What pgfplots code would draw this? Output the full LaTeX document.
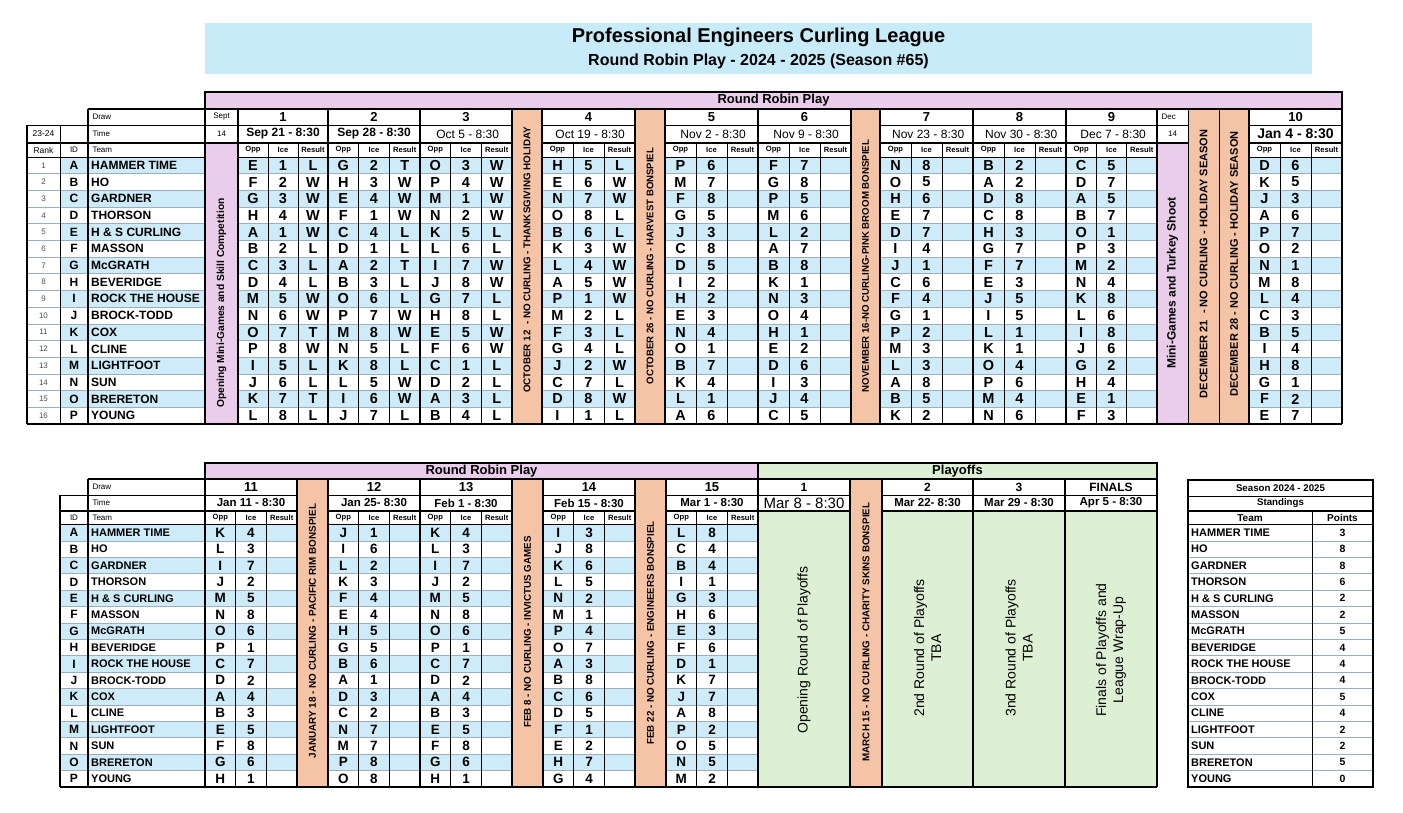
\documentclass[border=0pt]{standalone}
\usepackage{pgfplots}
\pgfplotsset{compat=1.18}
\usepackage{pgfplotstable}
\usepackage{fontspec}
\setmainfont{Liberation Sans}

\definecolor{rowblue}{HTML}{CDEBF8}
\definecolor{titleblue}{HTML}{C8EBF9}
\definecolor{pinkband}{HTML}{E9CDEB}
\definecolor{orangeband}{HTML}{F5C4A7}
\definecolor{playgreen}{HTML}{DDF0D4}
\definecolor{gridgray}{HTML}{9DAFBD}

\newcommand{\fs}[1]{\fontsize{#1}{#1}\selectfont}
\tikzset{thk/.style={line width=1.6pt}, thn/.style={line width=0.7pt}, grd/.style={line width=0.8pt, draw=gridgray}}

% schedule, draws 1-10 (opponent, ice, result)
\pgfplotstableread{
r o1 i1 s1 o2 i2 s2 o3 i3 s3 o4 i4 s4 o5 i5 o6 i6 o7 i7 o8 i8 o9 i9 o10 i10
1 E 1 L G 2 T O 3 W H 5 L P 6 F 7 N 8 B 2 C 5 D 6
2 F 2 W H 3 W P 4 W E 6 W M 7 G 8 O 5 A 2 D 7 K 5
3 G 3 W E 4 W M 1 W N 7 W F 8 P 5 H 6 D 8 A 5 J 3
4 H 4 W F 1 W N 2 W O 8 L G 5 M 6 E 7 C 8 B 7 A 6
5 A 1 W C 4 L K 5 L B 6 L J 3 L 2 D 7 H 3 O 1 P 7
6 B 2 L D 1 L L 6 L K 3 W C 8 A 7 I 4 G 7 P 3 O 2
7 C 3 L A 2 T I 7 W L 4 W D 5 B 8 J 1 F 7 M 2 N 1
8 D 4 L B 3 L J 8 W A 5 W I 2 K 1 C 6 E 3 N 4 M 8
9 M 5 W O 6 L G 7 L P 1 W H 2 N 3 F 4 J 5 K 8 L 4
10 N 6 W P 7 W H 8 L M 2 L E 3 O 4 G 1 I 5 L 6 C 3
11 O 7 T M 8 W E 5 W F 3 L N 4 H 1 P 2 L 1 I 8 B 5
12 P 8 W N 5 L F 6 W G 4 L O 1 E 2 M 3 K 1 J 6 I 4
13 I 5 L K 8 L C 1 L J 2 W B 7 D 6 L 3 O 4 G 2 H 8
14 J 6 L L 5 W D 2 L C 7 L K 4 I 3 A 8 P 6 H 4 G 1
15 K 7 T I 6 W A 3 L D 8 W L 1 J 4 B 5 M 4 E 1 F 2
16 L 8 L J 7 L B 4 L I 1 L A 6 C 5 K 2 N 6 F 3 E 7
}\toptab

% schedule, draws 11-15
\pgfplotstableread{
r o11 i11 o12 i12 o13 i13 o14 i14 o15 i15
1 K 4 J 1 K 4 I 3 L 8
2 L 3 I 6 L 3 J 8 C 4
3 I 7 L 2 I 7 K 6 B 4
4 J 2 K 3 J 2 L 5 I 1
5 M 5 F 4 M 5 N 2 G 3
6 N 8 E 4 N 8 M 1 H 6
7 O 6 H 5 O 6 P 4 E 3
8 P 1 G 5 P 1 O 7 F 6
9 C 7 B 6 C 7 A 3 D 1
10 D 2 A 1 D 2 B 8 K 7
11 A 4 D 3 A 4 C 6 J 7
12 B 3 C 2 B 3 D 5 A 8
13 E 5 N 7 E 5 F 1 P 2
14 F 8 M 7 F 8 E 2 O 5
15 G 6 P 8 G 6 H 7 N 5
16 H 1 O 8 H 1 G 4 M 2
}\bottab

\pgfplotstableread[col sep=comma]{
r,id,team,pts
1,A,HAMMER TIME,3
2,B,HO,8
3,C,GARDNER,8
4,D,THORSON,6
5,E,H \& S CURLING,2
6,F,MASSON,2
7,G,McGRATH,5
8,H,BEVERIDGE,4
9,I,ROCK THE HOUSE,4
10,J,BROCK-TODD,4
11,K,COX,5
12,L,CLINE,4
13,M,LIGHTFOOT,2
14,N,SUN,2
15,O,BRERETON,5
16,P,YOUNG,0
}\teams

\pgfplotsset{celltxt/.style={draw=none, mark=none, point meta=explicit symbolic,
  nodes near coords={\pgfplotspointmeta},
  every node near coord/.append style={anchor=center, inner sep=0pt, font=\fs{14.5}\bfseries}}}

% #1 table, #2 column, #3 x, #4 top of rows, #5 row height, #6 node style
\newcommand{\cellcol}[6]{\addplot[celltxt, every node near coord/.append style={#6}]
  table[x expr=#3, y expr={#4+#5*(\thisrow{r}-0.5)}, meta=#2] {#1};}

% #1 left #2 right #3 draw-row top #4 time-row top #5 header top #6 data top #7 bottom #8 draw #9 time
\newcommand{\drawblock}[9]{%
  \draw[thk] (#1,#3) -- (#1,#7); \draw[thk] (#2,#3) -- (#2,#7);
  \draw[thn] ({#1+(#2-#1)/3},#5) -- ({#1+(#2-#1)/3},#7);
  \draw[thn] ({#1+2*(#2-#1)/3},#5) -- ({#1+2*(#2-#1)/3},#7);
  \node[font=\fs{13}\bfseries] at ({(#1+#2)/2},{(#3+#4)/2}) {#8};
  \node at ({(#1+#2)/2},{(#4+#5)/2}) {#9};
  \node[font=\fs{7.6}\bfseries] at ({#1+(#2-#1)/6},{(#5+#6)/2}) {Opp};
  \node[font=\fs{7.6}\bfseries] at ({(#1+#2)/2},{(#5+#6)/2}) {Ice};
  \node[font=\fs{7.6}\bfseries] at ({#1+5*(#2-#1)/6},{(#5+#6)/2}) {Result};}

\begin{document}
\begin{tikzpicture}
\begin{axis}[width=1403pt, height=813pt, scale only axis, xmin=0, xmax=1403, ymin=0, ymax=813,
  y dir=reverse, hide axis, clip=false]
\path (0,0) rectangle (1403,813);
% title
\fill[titleblue] (205,23) rectangle (1312,74);
\node[font=\fs{20}\bfseries] at (758.5,37) {Professional Engineers Curling League};
\node[font=\fs{16}\bfseries] at (758.5,61) {Round Robin Play - 2024 - 2025 (Season \#65)};

% ---------------- top table ----------------
\pgfplotsinvokeforeach{1,3,5,7,9,11,13,15}{\fill[rowblue] (60,{157+16.69*(#1-1)}) rectangle (1342,{157+16.69*#1});}
\pgfplotsinvokeforeach{1,...,15}{\draw[grd] (27,{157+16.69*#1}) -- (1342,{157+16.69*#1});}
\draw[thn] (27,125) -- (1342,125);
\draw[thn] (27,157) -- (1342,157);
\draw[thk] (27,143) -- (1342,143);
\filldraw[fill=pinkband, draw=black, thk] (205,92) rectangle (1342,109);
\node[font=\fs{13}\bfseries] at (773.5,100.5) {Round Robin Play};
\filldraw[fill=pinkband, draw=black, thn] (205,143) rectangle (238,424);
\filldraw[fill=pinkband, draw=black, thn] (1157,143) rectangle (1188,424);
\filldraw[fill=orangeband, draw=black, thn] (512,109) rectangle (542,424);
\filldraw[fill=orangeband, draw=black, thn] (635,109) rectangle (665,424);
\filldraw[fill=orangeband, draw=black, thn] (851,109) rectangle (880,424);
\filldraw[fill=orangeband, draw=black, thn] (1188,109) rectangle (1219,424);
\filldraw[fill=orangeband, draw=black, thn] (1219,109) rectangle (1249,424);
\draw[thk] (88,109) -- (1342,109);
\draw[thk] (27,424) -- (1342,424);
\draw[thk] (27,125) -- (27,424);
\draw[thn] (60,125) -- (60,424);
\draw[thk] (88,109) -- (88,424);
\draw[thk] (205,109) -- (205,424);
\draw[thk] (1342,92) -- (1342,424);
\drawblock{238}{328}{109}{125}{143}{157}{424}{1}{\fs{12}\bfseries Sep 21 - 8:30}
\drawblock{328}{420}{109}{125}{143}{157}{424}{2}{\fs{12}\bfseries Sep 28 - 8:30}
\drawblock{420}{512}{109}{125}{143}{157}{424}{3}{\fs{12} Oct 5 - 8:30}
\drawblock{542}{635}{109}{125}{143}{157}{424}{4}{\fs{12} Oct 19 - 8:30}
\drawblock{665}{758}{109}{125}{143}{157}{424}{5}{\fs{12} Nov 2 - 8:30}
\drawblock{758}{851}{109}{125}{143}{157}{424}{6}{\fs{12} Nov 9 - 8:30}
\drawblock{880}{973}{109}{125}{143}{157}{424}{7}{\fs{12} Nov 23 - 8:30}
\drawblock{973}{1066}{109}{125}{143}{157}{424}{8}{\fs{12} Nov 30 - 8:30}
\drawblock{1066}{1157}{109}{125}{143}{157}{424}{9}{\fs{12} Dec 7 - 8:30}
\drawblock{1249}{1342}{109}{125}{143}{157}{424}{10}{\fs{14}\bfseries Jan 4 - 8:30}
\node[font=\fs{8}] at (221.5,117) {Sept};
\node[font=\fs{8}] at (221.5,134) {14};
\node[font=\fs{8}, anchor=west] at (1158,117) {Dec};
\node[font=\fs{8}] at (1172.5,134) {14};
\node[font=\fs{8}, anchor=west] at (89,117) {Draw};
\node[font=\fs{8}, anchor=west] at (89,134) {Time};
\node[font=\fs{8}, anchor=west] at (89,150) {Team};
\node[font=\fs{8.5}] at (43.5,134) {23-24};
\node[font=\fs{8.5}] at (43.5,150) {Rank};
\node[font=\fs{8}] at (74,150) {ID};
\node[rotate=90, font=\fs{10.2}\bfseries] at (221.5,303) {Opening Mini-Games and Skill Competition};
\node[rotate=90, font=\fs{9.8}\bfseries] at (527,260) {OCTOBER 12 \ - NO CURLING - THANKSGIVING HOLIDAY};
\node[rotate=90, font=\fs{9.6}\bfseries] at (650,266) {OCTOBER 26 - NO CURLING - HARVEST BONSPIEL};
\node[rotate=90, font=\fs{9.7}\bfseries] at (865.5,266) {NOVEMBER 16-NO CURLING-PINK BROOM BONSPIEL};
\node[rotate=90, font=\fs{12}\bfseries] at (1172.5,283) {Mini-Games and Turkey Shoot};
\node[rotate=90, font=\fs{11}\bfseries] at (1203.5,264) {DECEMBER 21 \ - NO CURLING - HOLIDAY SEASON};
\node[rotate=90, font=\fs{11}\bfseries] at (1234,264) {DECEMBER 28 - NO CURLING - HOLIDAY SEASON};

\cellcol{\teams}{r}{43.5}{157}{16.69}{font=\fs{8}, text=black!70}
\cellcol{\teams}{id}{74}{157}{16.69}{font=\fs{12}\bfseries}
\cellcol{\teams}{team}{91}{157}{16.69}{anchor=west, font=\fs{12}\bfseries}
\cellcol{\toptab}{o1}{253}{157}{16.69}{}
\cellcol{\toptab}{i1}{283}{157}{16.69}{}
\cellcol{\toptab}{s1}{313}{157}{16.69}{}
\cellcol{\toptab}{o2}{343.3}{157}{16.69}{}
\cellcol{\toptab}{i2}{374}{157}{16.69}{}
\cellcol{\toptab}{s2}{404.7}{157}{16.69}{}
\cellcol{\toptab}{o3}{435.3}{157}{16.69}{}
\cellcol{\toptab}{i3}{466}{157}{16.69}{}
\cellcol{\toptab}{s3}{496.7}{157}{16.69}{}
\cellcol{\toptab}{o4}{557.5}{157}{16.69}{}
\cellcol{\toptab}{i4}{588.5}{157}{16.69}{}
\cellcol{\toptab}{s4}{619.5}{157}{16.69}{}
\cellcol{\toptab}{o5}{680.5}{157}{16.69}{}
\cellcol{\toptab}{i5}{711.5}{157}{16.69}{}
\cellcol{\toptab}{o6}{773.5}{157}{16.69}{}
\cellcol{\toptab}{i6}{804.5}{157}{16.69}{}
\cellcol{\toptab}{o7}{895.5}{157}{16.69}{}
\cellcol{\toptab}{i7}{926.5}{157}{16.69}{}
\cellcol{\toptab}{o8}{988.5}{157}{16.69}{}
\cellcol{\toptab}{i8}{1019.5}{157}{16.69}{}
\cellcol{\toptab}{o9}{1081.2}{157}{16.69}{}
\cellcol{\toptab}{i9}{1111.5}{157}{16.69}{}
\cellcol{\toptab}{o10}{1264.5}{157}{16.69}{}
\cellcol{\toptab}{i10}{1295.5}{157}{16.69}{}

% ---------------- bottom table ----------------
\pgfplotsinvokeforeach{1,3,5,7,9,11,13,15}{\fill[rowblue] (60,{524.5+16.4*(#1-1)}) rectangle (758,{524.5+16.4*#1});}
\pgfplotsinvokeforeach{1,...,15}{\draw[grd] (60,{524.5+16.4*#1}) -- (758,{524.5+16.4*#1});}
\fill[playgreen] (758,511) rectangle (1157,787);
\draw[thn] (60,495) -- (1157,495);
\draw[thn] (60,524.5) -- (758,524.5);
\draw[thk] (60,511) -- (1157,511);
\filldraw[fill=pinkband, draw=black, thk] (205,463) rectangle (758,479);
\filldraw[fill=playgreen, draw=black, thk] (758,463) rectangle (1157,479);
\node[font=\fs{13}\bfseries] at (481.5,471) {Round Robin Play};
\node[font=\fs{13}\bfseries] at (957.5,471) {Playoffs};
\filldraw[fill=orangeband, draw=black, thn] (297,479) rectangle (328,787);
\filldraw[fill=orangeband, draw=black, thn] (512,479) rectangle (543,787);
\filldraw[fill=orangeband, draw=black, thn] (635,479) rectangle (666,787);
\filldraw[fill=orangeband, draw=black, thn] (850,479) rectangle (882,787);
\draw[thk] (88,479) -- (1157,479);
\draw[thk] (60,787) -- (1157,787);
\draw[thk] (60,495) -- (60,787);
\draw[thk] (88,479) -- (88,787);
\draw[thk] (205,463) -- (205,787);
\draw[thk] (758,463) -- (758,787);
\draw[thk] (1157,463) -- (1157,787);
\pgfplotsinvokeforeach{850,882,973,1065}{\draw[thk] (#1,479) -- (#1,787);}
\drawblock{205}{297}{479}{495}{511}{524.5}{787}{11}{\fs{11.5}\bfseries Jan 11 - 8:30}
\drawblock{328}{420}{479}{495}{511}{524.5}{787}{12}{\fs{11.5}\bfseries Jan 25- 8:30}
\drawblock{420}{512}{479}{495}{511}{524.5}{787}{13}{\fs{11.5}\bfseries Feb 1 - 8:30}
\drawblock{543}{635}{479}{495}{511}{524.5}{787}{14}{\fs{11.5}\bfseries Feb 15 - 8:30}
\drawblock{666}{758}{479}{495}{511}{524.5}{787}{15}{\fs{11.5}\bfseries Mar 1 - 8:30}
\node[font=\fs{12}\bfseries] at (804,487) {1};
\node[font=\fs{12}\bfseries] at (927.5,487) {2};
\node[font=\fs{12}\bfseries] at (1019,487) {3};
\node[font=\fs{12}\bfseries] at (1111,487) {FINALS};
\node[font=\fs{15}] at (804,503) {Mar 8 - 8:30};
\node[font=\fs{11.5}\bfseries] at (927.5,503) {Mar 22- 8:30};
\node[font=\fs{11.5}\bfseries] at (1019,503) {Mar 29 - 8:30};
\node[font=\fs{11.5}\bfseries] at (1111,503) {Apr 5 - 8:30};
\node[font=\fs{8}, anchor=west] at (89,487) {Draw};
\node[font=\fs{8}, anchor=west] at (89,503) {Time};
\node[font=\fs{8}, anchor=west] at (89,518) {Team};
\node[font=\fs{8}] at (74,518) {ID};
\node[rotate=90, font=\fs{9.9}\bfseries] at (312.5,631) {JANUARY 18 - NO CURLING - PACIFIC RIM BONSPIEL};
\node[rotate=90, font=\fs{9.8}\bfseries] at (527.5,632) {FEB 8 - NO CURLING - INVICTUS GAMES};
\node[rotate=90, font=\fs{9.8}\bfseries] at (650.5,633) {FEB 22 - NO CURLING - ENGINEERS BONSPIEL};
\node[rotate=90, font=\fs{9.8}\bfseries] at (866,632) {MARCH 15 - NO CURLING - CHARITY SKINS BONSPIEL};
\node[rotate=90, font=\fs{14}] at (804,650) {Opening Round of Playoffs};
\node[rotate=90, align=center, font=\fontsize{14}{17}\selectfont] at (927.5,648) {2nd Round of Playoffs\\TBA};
\node[rotate=90, align=center, font=\fontsize{14}{17}\selectfont] at (1019,648) {3nd Round of Playoffs\\TBA};
\node[rotate=90, align=center, font=\fontsize{14}{17}\selectfont] at (1111,650) {Finals of Playoffs and\\League Wrap-Up};

\cellcol{\teams}{id}{74}{524.5}{16.4}{font=\fs{12}\bfseries}
\cellcol{\teams}{team}{91}{524.5}{16.4}{anchor=west, font=\fs{11}\bfseries}
\cellcol{\bottab}{o11}{220.3}{524.5}{16.4}{font=\fs{13.5}\bfseries}
\cellcol{\bottab}{i11}{251}{524.5}{16.4}{font=\fs{13.5}\bfseries}
\cellcol{\bottab}{o12}{343.3}{524.5}{16.4}{font=\fs{13.5}\bfseries}
\cellcol{\bottab}{i12}{374}{524.5}{16.4}{font=\fs{13.5}\bfseries}
\cellcol{\bottab}{o13}{435.3}{524.5}{16.4}{font=\fs{13.5}\bfseries}
\cellcol{\bottab}{i13}{466}{524.5}{16.4}{font=\fs{13.5}\bfseries}
\cellcol{\bottab}{o14}{558.3}{524.5}{16.4}{font=\fs{13.5}\bfseries}
\cellcol{\bottab}{i14}{589}{524.5}{16.4}{font=\fs{13.5}\bfseries}
\cellcol{\bottab}{o15}{681.3}{524.5}{16.4}{font=\fs{13.5}\bfseries}
\cellcol{\bottab}{i15}{712}{524.5}{16.4}{font=\fs{13.5}\bfseries}

% ---------------- standings ----------------
\pgfplotsinvokeforeach{1,...,15}{\draw[grd] (1188,{524.5+16.4*#1}) -- (1373,{524.5+16.4*#1});}
\draw[thn] (1188,496) -- (1373,496);
\draw[thk] (1188,511) -- (1373,511);
\draw[thn] (1188,524.5) -- (1373,524.5);
\draw[thn] (1312,511) -- (1312,787);
\draw[thk] (1188,480) rectangle (1373,787);
\node[font=\fs{9.7}\bfseries] at (1280.5,488) {Season 2024 - 2025};
\node[font=\fs{9.7}\bfseries] at (1280.5,503.5) {Standings};
\node[font=\fs{10}\bfseries] at (1250,518) {Team};
\node[font=\fs{10}\bfseries] at (1342.5,518) {Points};
\cellcol{\teams}{team}{1191}{524.5}{16.4}{anchor=west, font=\fs{11}\bfseries}
\cellcol{\teams}{pts}{1342.5}{524.5}{16.4}{font=\fs{10.5}\bfseries}
\end{axis}
\end{tikzpicture}
\end{document}
